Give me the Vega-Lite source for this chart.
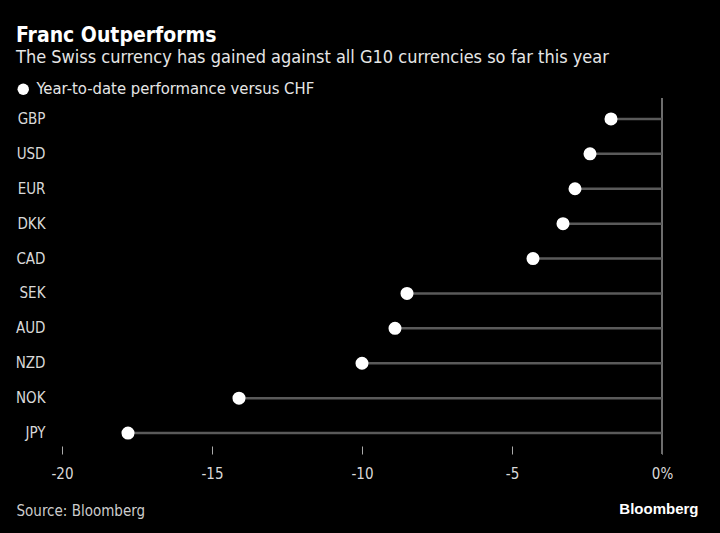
{
  "$schema": "https://vega.github.io/schema/vega-lite/v6.json",
  "width": 600,
  "height": 356,
  "autosize": {"type": "none"},
  "padding": {"left": 62, "top": 98, "right": 58, "bottom": 79},
  "background": "#000000",
  "title": {
    "text": "Franc Outperforms",
    "subtitle": "The Swiss currency has gained against all G10 currencies so far this year",
    "anchor": "start",
    "frame": "group",
    "dx": -46,
    "offset": 14,
    "font": "DejaVu Sans Condensed",
    "fontSize": 21,
    "fontWeight": "bold",
    "color": "#ffffff",
    "subtitleFont": "DejaVu Sans Condensed",
    "subtitleFontSize": 18,
    "subtitleColor": "#e6e6e6",
    "subtitlePadding": 3
  },
  "data": {
    "values": [
      {"currency": "GBP", "value": -1.7},
      {"currency": "USD", "value": -2.4},
      {"currency": "EUR", "value": -2.9},
      {"currency": "DKK", "value": -3.3},
      {"currency": "CAD", "value": -4.3},
      {"currency": "SEK", "value": -8.5},
      {"currency": "AUD", "value": -8.9},
      {"currency": "NZD", "value": -10.0},
      {"currency": "NOK", "value": -14.1},
      {"currency": "JPY", "value": -17.8}
    ]
  },
  "encoding": {
    "y": {
      "field": "currency",
      "type": "nominal",
      "sort": null,
      "scale": {"paddingInner": 0, "paddingOuter": 0.1},
      "axis": {
        "title": "Bloomberg",
        "titleAngle": 0,
        "titleX": 636,
        "titleY": 410,
        "titleAlign": "right",
        "titleBaseline": "middle",
        "titleFont": "Liberation Sans",
        "titleFontSize": 15,
        "titleFontWeight": "bold",
        "titleColor": "#ffffff",
        "domain": false,
        "ticks": false,
        "labelPadding": 17,
        "labelFont": "DejaVu Sans Condensed",
        "labelFontSize": 15,
        "labelColor": "#d9d9d9"
      }
    }
  },
  "layer": [
    {
      "mark": {"type": "rule", "color": "#6e6e6e", "strokeWidth": 1.5},
      "encoding": {"x": {"datum": 0, "type": "quantitative"}, "y": null}
    },
    {
      "mark": {"type": "rule", "color": "#5a5a5a", "strokeWidth": 2.5},
      "encoding": {
        "x": {
          "field": "value",
          "type": "quantitative",
          "scale": {"domain": [-20, 0], "nice": false},
          "axis": {
            "title": "Source: Bloomberg",
            "titleX": -46,
            "titleY": 56,
            "titleAlign": "left",
            "titleBaseline": "middle",
            "titleFont": "DejaVu Sans Condensed",
            "titleFontSize": 15,
            "titleFontWeight": "normal",
            "titleColor": "#cccccc",
            "values": [-20, -15, -10, -5, 0],
            "domain": false,
            "grid": false,
            "tickColor": "#aaaaaa",
            "tickSize": -8,
            "tickWidth": 1,
            "labelPadding": 20,
            "labelFlush": false,
            "labelFont": "DejaVu Sans Condensed",
            "labelFontSize": 15,
            "labelColor": "#d9d9d9",
            "labelExpr": "datum.value == 0 ? '0%' : '' + datum.value"
          }
        },
        "x2": {"datum": 0}
      }
    },
    {
      "mark": {"type": "point", "filled": true, "opacity": 1, "size": 170},
      "encoding": {
        "x": {"field": "value", "type": "quantitative"},
        "color": {
          "datum": "Year-to-date performance versus CHF",
          "type": "nominal",
          "scale": {"range": ["#ffffff"]},
          "legend": {
            "title": null,
            "orient": "none",
            "legendX": -47,
            "legendY": -17,
            "symbolType": "circle",
            "symbolSize": 130,
            "symbolStrokeWidth": 0,
            "labelFont": "DejaVu Sans Condensed",
            "labelFontSize": 16.5,
            "labelLimit": 500,
            "labelColor": "#e6e6e6",
            "labelOffset": 5
          }
        }
      }
    }
  ],
  "config": {
    "view": {"stroke": null}
  }
}
